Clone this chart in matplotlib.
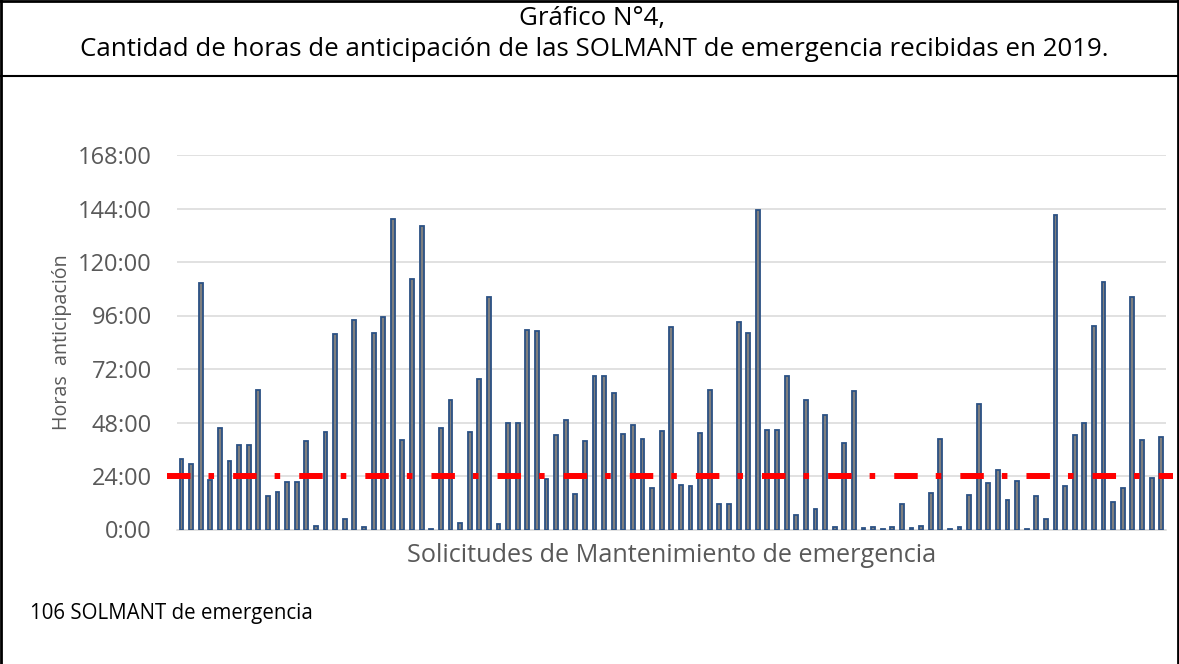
import matplotlib
matplotlib.use("Agg")
import matplotlib.pyplot as plt
from matplotlib.lines import Line2D

plt.rcParams['font.family'] = ['Open Sans', 'DejaVu Sans']

title_line1 = "Gráfico N°4,"
title_line2 = "Cantidad de horas de anticipación de las SOLMANT de emergencia recibidas en 2019."
xlabel = "Solicitudes de Mantenimiento de emergencia"
ylabel = "Horas  anticipación"
caption = "106 SOLMANT de emergencia"

hours = [31.8, 29.4, 110.8, 22.1, 45.7, 30.8, 37.7, 37.7, 62.8, 15.0,
         16.6, 21.4, 21.5, 39.9, 1.5, 43.6, 87.6, 4.9, 93.9, 1.2,
         88.2, 95.4, 139.2, 40.2, 112.3, 136.2, 0.4, 45.4, 58.0, 3.0,
         43.6, 67.7, 104.5, 2.5, 47.7, 47.7, 89.4, 89.1, 22.6, 42.5,
         49.3, 16.0, 39.9, 68.8, 68.8, 61.3, 42.9, 46.9, 40.5, 18.7,
         44.2, 90.7, 20.0, 19.3, 43.3, 62.8, 11.4, 11.4, 93.1, 88.3,
         143.5, 44.5, 44.5, 68.8, 6.6, 58.1, 9.4, 51.4, 1.2, 38.6,
         62.2, 0.7, 1.3, 0.4, 1.2, 11.4, 0.6, 1.5, 16.4, 40.4,
         0.4, 1.0, 15.4, 56.2, 20.9, 26.6, 13.3, 21.8, 0.4, 15.0,
         4.8, 141.0, 19.3, 42.5, 47.7, 91.3, 111.1, 12.3, 18.7, 104.2,
         40.2, 22.9, 41.7]
categories = list(range(1, len(hours) + 1))
threshold = 24
yticks = [0, 24, 48, 72, 96, 120, 144, 168]
ytick_labels = [f"{t}:00" for t in yticks]

W, H = 1179, 664
fig = plt.figure(figsize=(W / 100, H / 100), dpi=100)
fig.patch.set_facecolor('white')

ax = fig.add_axes([176.7 / W, 1 - 529.5 / H, (1166 - 176.7) / W, (529.5 - 155) / H])
ax.bar(categories, hours, width=0.4, color='#7f7f7f', edgecolor='#2b5184',
       linewidth=1.3, zorder=3)
ax.axhline(threshold, xmin=-0.0101, xmax=1.0068, clip_on=False, color='#ff0000',
           linewidth=4.3, linestyle=(0, (3.93, 3.02, 0.93, 3.19)),
           dash_capstyle='butt', zorder=4)

ax.set_xlim(0.5, len(hours) + 0.5)
ax.set_ylim(0, 168)
ax.set_yticks(yticks)
ax.set_yticklabels(ytick_labels)
ax.set_xticks([])
ax.tick_params(axis='y', length=0, pad=18, labelsize=17, labelcolor='#595959')
for s in ['top', 'right', 'left']:
    ax.spines[s].set_visible(False)
ax.spines['bottom'].set_color('#d9d9d9')
ax.spines['bottom'].set_linewidth(1.1)
ax.grid(axis='y', color='#d9d9d9', linewidth=1.1, zorder=0)
ax.set_axisbelow(True)

fig.text(62 / W, 1 - 342 / H, ylabel, rotation=90, ha='center', va='center',
         fontsize=14.2, color='#595959')
fig.text(672 / W, 1 - 555 / H, xlabel, ha='center', va='center',
         fontsize=18.2, color='#595959')
fig.text(592 / W, 1 - 19 / H, title_line1, ha='center', va='center',
         fontsize=18.6, color='black')
fig.text(594 / W, 1 - 50 / H, title_line2, ha='center', va='center',
         fontsize=18.6, color='black')
fig.text(30 / W, 1 - 614 / H, caption, ha='left', va='center',
         fontsize=14.8, color='black')

# frame lines
fig.add_artist(Line2D([1 / W, 1 / W], [0, 1], color='black', linewidth=2, transform=fig.transFigure))
fig.add_artist(Line2D([1 - 1.5 / W, 1 - 1.5 / W], [0, 1], color='black', linewidth=2, transform=fig.transFigure))
fig.add_artist(Line2D([0, 1], [1 - 1 / H, 1 - 1 / H], color='black', linewidth=2, transform=fig.transFigure))
fig.add_artist(Line2D([0, 1], [1 - 76 / H, 1 - 76 / H], color='black', linewidth=1.5, transform=fig.transFigure))

fig.savefig('out.png', dpi=100)
